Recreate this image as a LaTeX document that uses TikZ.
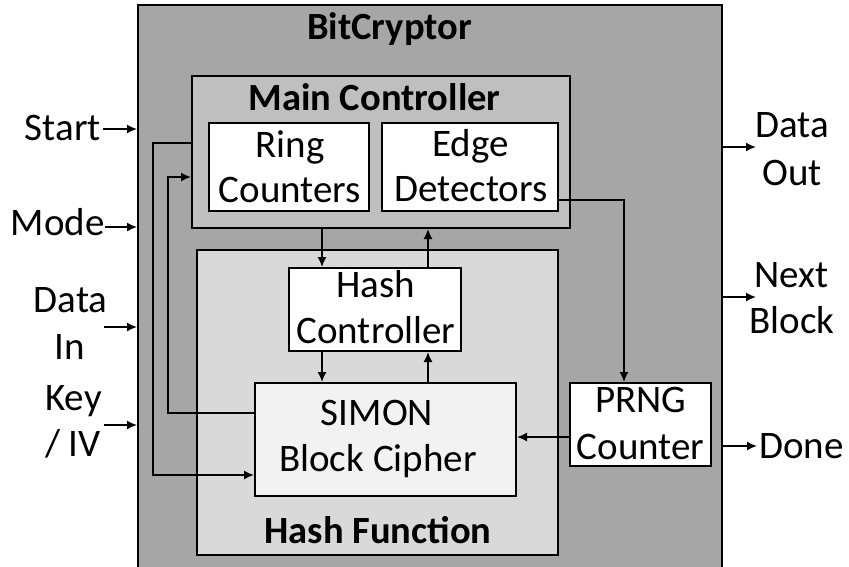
\documentclass[tikz,border=0pt]{standalone}
\usepackage{fontspec}
\setmainfont{Carlito}
\usetikzlibrary{arrows.meta}
\definecolor{gOuter}{HTML}{A6A6A6}
\definecolor{gMain}{HTML}{BFBFBF}
\definecolor{gHash}{HTML}{D9D9D9}
\definecolor{gSimon}{HTML}{F2F2F2}
\begin{document}
\begin{tikzpicture}[x=1pt,y=-1pt,
  box/.style={draw=black, line width=2.6pt, inner sep=0pt, outer sep=0pt},
  conn/.style={line width=1.6pt, -{Latex[length=10pt,width=9pt]}, shorten >=1pt},
  txt/.style={font=\fontsize{39}{46}\selectfont, inner sep=0pt, anchor=base},
  btxt/.style={font=\fontsize{38.5}{46}\selectfont\bfseries, inner sep=0pt, anchor=base}]
\useasboundingbox (0,0) rectangle (849,566);
% boxes
\node[box, fill=gOuter, minimum width=584pt, minimum height=565pt] (outer) at (430,287.5) {};
\node[box, fill=gMain, minimum width=378pt, minimum height=152pt] (mc) at (381,152) {};
\node[box, fill=white, minimum width=160pt, minimum height=88pt] (ring) at (289,167) {};
\node[box, fill=white, minimum width=176pt, minimum height=88pt] (edge) at (470,167) {};
\node[box, fill=gHash, minimum width=361pt, minimum height=305pt] (hf) at (377.5,402.5) {};
\node[box, fill=white, minimum width=172pt, minimum height=83pt] (hc) at (375,309.5) {};
\node[box, fill=gSimon, minimum width=261pt, minimum height=113pt] (simon) at (385.5,439.5) {};
\node[box, fill=white, minimum width=141pt, minimum height=83pt] (prng) at (640.5,424.5) {};
% texts
\node[btxt] (tBit) at (389.5,39) {BitCryptor};
\node[btxt] (tMC) at (374.5,110) {Main Controller};
\node[txt] (tR1) at (290,157) {Ring};
\node[txt] (tR2) at (290,202) {Counters};
\node[txt] (tE1) at (470.5,156) {Edge};
\node[txt] (tE2) at (471,201) {Detectors};
\node[txt] (tH1) at (375.5,297) {Hash};
\node[txt] (tH2) at (376,343) {Controller};
\node[txt] (tS1) at (377,425) {SIMON};
\node[txt] (tS2) at (378,471) {Block Cipher};
\node[btxt] (tHF) at (378,543) {Hash Function};
\node[txt] (tP1) at (641,412) {PRNG};
\node[txt] (tP2) at (640.5,459) {Counter};
\node[txt, anchor=base east] (tStart) at (101,140) {Start};
\node[txt, anchor=base east] (tMode) at (105,235) {Mode};
\node[txt] (tDI1) at (70.5,312) {Data};
\node[txt] (tDI2) at (70,359) {In};
\node[txt] (tK1) at (73.5,410) {Key};
\node[txt] (tK2) at (73,456) {/ IV};
\node[txt] (tDO1) at (792,137) {Data};
\node[txt] (tDO2) at (792,185) {Out};
\node[txt] (tNB1) at (791.5,287) {Next};
\node[txt] (tNB2) at (792,333) {Block};
\node[txt, anchor=base west] (tDone) at (759,458) {Done};
% internal connectors
\coordinate (xa) at (322,0);
\coordinate (xb) at (428,0);
\coordinate (xc) at (624,0);
\coordinate (ya) at (0,143);
\coordinate (yb) at (0,475);
\coordinate (yc) at (0,413);
\coordinate (yd) at (0,177);
\coordinate (ye) at (0,437);
\coordinate (yf) at (0,200);
\draw[conn] (mc.south -| xa) -- (hc.north -| xa);
\draw[conn] (hc.north -| xb) -- (mc.south -| xb);
\draw[conn] (hc.south -| xa) -- (simon.north -| xa);
\draw[conn] (simon.north -| xb) -- (hc.south -| xb);
\draw[conn] (mc.west |- ya) -- ++(-39,0) |- (simon.west |- yb);
\draw[conn] (simon.west |- yc) -- ++(-87,0) |- (mc.west |- yd);
\draw[conn] (prng.west |- ye) -- (simon.east |- ye);
\draw[conn] (edge.east |- yf) -| (xc |- prng.north);
% external inputs
\coordinate (iStart) at (103,129);
\coordinate (iMode) at (105,227);
\coordinate (iData) at (104,327);
\coordinate (iKey) at (104,425);
\draw[conn] (iStart) -- (iStart -| outer.west);
\draw[conn] (iMode) -- (iMode -| outer.west);
\draw[conn] (iData) -- (iData -| outer.west);
\draw[conn] (iKey) -- (iKey -| outer.west);
% external outputs
\coordinate (oData) at (757,147);
\coordinate (oNext) at (757,297);
\coordinate (oDone) at (758,446);
\draw[conn] (oData -| outer.east) -- (oData);
\draw[conn] (oNext -| outer.east) -- (oNext);
\draw[conn] (oDone -| outer.east) -- (oDone);
\end{tikzpicture}
\end{document}
